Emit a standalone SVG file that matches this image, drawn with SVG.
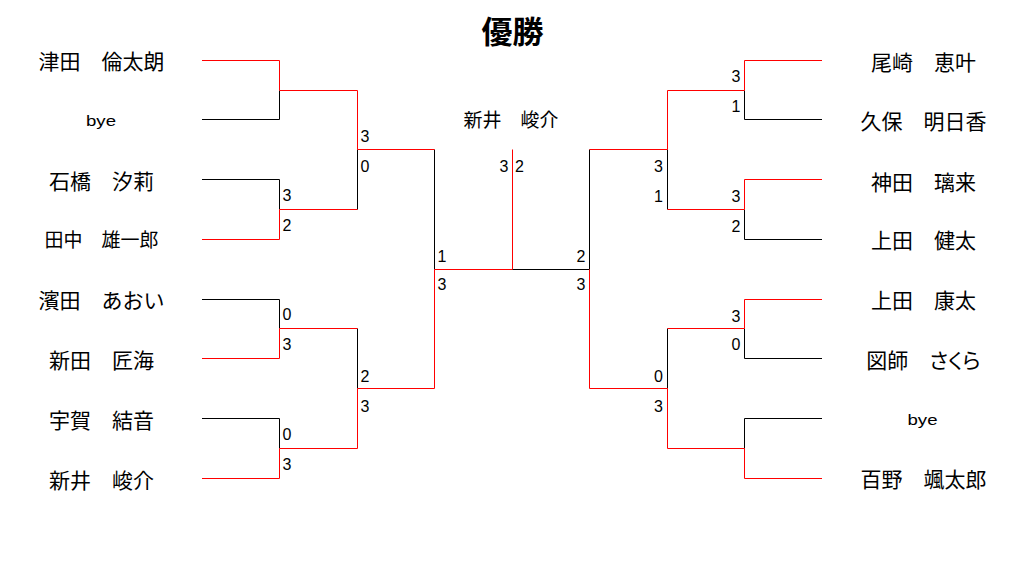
<svg xmlns="http://www.w3.org/2000/svg" width="1024" height="568" viewBox="0 0 1024 568">
<style>
.r{fill:none;stroke:#ff0000;stroke-width:1}
.k{fill:none;stroke:#000;stroke-width:1}
.nm{font-family:'Noto Sans CJK JP',sans-serif;font-size:21px;fill:#000;text-anchor:middle}
.sm{font-size:19px}
.bye{font-family:'Liberation Sans',Arial,sans-serif;font-size:15px;fill:#000;text-anchor:middle}
.sc{font-family:'Liberation Sans',Arial,sans-serif;font-size:16px;fill:#000}
.e{text-anchor:end}
.title{font-family:'Noto Sans CJK JP',sans-serif;font-size:31px;font-weight:bold;fill:#000;text-anchor:middle}
</style>
<rect width="1024" height="568" fill="#fff"/>
<g id="connectors">
<path class="k" d="M202,119.5H279.5V90.5"/>
<path class="k" d="M202,179.5H279.5V209.5"/>
<path class="k" d="M357.5,209.5V149.5"/>
<path class="k" d="M434.5,149.5V269.5"/>
<path class="k" d="M202,299.5H279.5V328.5"/>
<path class="k" d="M357.5,328.5V388.5"/>
<path class="k" d="M202,418.5H279.5V448.5"/>
<path class="r" d="M202,60.5H279.5V90.5H357.5V149.5H434.5"/>
<path class="r" d="M202,239.5H279.5V209.5H357.5"/>
<path class="r" d="M202,358.5H279.5V328.5H357.5"/>
<path class="r" d="M202,478.5H279.5V448.5H357.5V388.5H434.5V269.5H512.5V149.5"/>
<path class="k" d="M512.5,269.5H589.5V149.5"/>
<path class="k" d="M822,119.5H744.5V90.5"/>
<path class="k" d="M822,239.5H744.5V209.5"/>
<path class="k" d="M667.5,209.5V149.5"/>
<path class="k" d="M822,358.5H744.5V328.5"/>
<path class="k" d="M667.5,328.5V388.5"/>
<path class="k" d="M822,418.5H744.5V448.5"/>
<path class="r" d="M822,60.5H744.5V90.5H667.5V149.5H589.5"/>
<path class="r" d="M822,179.5H744.5V209.5H667.5"/>
<path class="r" d="M822,299.5H744.5V328.5H667.5"/>
<path class="r" d="M822,478.5H744.5V448.5H667.5V388.5H589.5V269.5"/>
</g>
<g id="scores">
<text class="sc" x="282.5" y="201">3</text>
<text class="sc" x="282.5" y="231">2</text>
<text class="sc" x="282.5" y="320">0</text>
<text class="sc" x="282.5" y="350">3</text>
<text class="sc" x="282.5" y="440">0</text>
<text class="sc" x="282.5" y="470">3</text>
<text class="sc" x="360.5" y="142">3</text>
<text class="sc" x="360.5" y="172">0</text>
<text class="sc" x="360.5" y="381.5">2</text>
<text class="sc" x="360.5" y="411.5">3</text>
<text class="sc" x="437.5" y="261.5">1</text>
<text class="sc" x="437.5" y="290">3</text>
<text class="sc e" x="508.5" y="171.5">3</text>
<text class="sc" x="515" y="171.5">2</text>
<text class="sc e" x="585.5" y="261.5">2</text>
<text class="sc e" x="585.5" y="290">3</text>
<text class="sc e" x="663" y="171.5">3</text>
<text class="sc e" x="663" y="201.5">1</text>
<text class="sc e" x="663" y="381.5">0</text>
<text class="sc e" x="663" y="411.5">3</text>
<text class="sc e" x="740.5" y="81.5">3</text>
<text class="sc e" x="740.5" y="111.5">1</text>
<text class="sc e" x="740.5" y="201.5">3</text>
<text class="sc e" x="740.5" y="231.5">2</text>
<text class="sc e" x="740.5" y="321.5">3</text>
<text class="sc e" x="740.5" y="350">0</text>
</g>
<g id="title"><text class="title" x="512.5" y="43">優勝</text></g>
<g id="champion"><text class="nm" style="font-size:19px" x="511" y="127">新井　峻介</text></g>
<g id="p1"><text class="nm" x="101.5" y="69">津田　倫太朗</text></g>
<g id="p2"><text class="bye" x="101" y="126" textLength="30" lengthAdjust="spacingAndGlyphs">bye</text></g>
<g id="p3"><text class="nm" x="101.5" y="189">石橋　汐莉</text></g>
<g id="p4"><text class="nm sm" x="101.5" y="246.5">田中　雄一郎</text></g>
<g id="p5"><text class="nm" x="101.5" y="308">濱田　あおい</text></g>
<g id="p6"><text class="nm" x="101.5" y="367.5">新田　匠海</text></g>
<g id="p7"><text class="nm" x="101.5" y="428">宇賀　結音</text></g>
<g id="p8"><text class="nm" x="101.5" y="487.5">新井　峻介</text></g>
<g id="p9"><text class="nm" x="923.5" y="69.5">尾崎　恵叶</text></g>
<g id="p10"><text class="nm" x="923.5" y="129">久保　明日香</text></g>
<g id="p11"><text class="nm" x="923.5" y="189.5">神田　璃来</text></g>
<g id="p12"><text class="nm" x="923.5" y="248.3">上田　健太</text></g>
<g id="p13"><text class="nm" x="923.5" y="308.3">上田　康太</text></g>
<g id="p14"><text class="nm" style="font-feature-settings:'palt'" x="923.5" y="368">図師　さくら</text></g>
<g id="p15"><text class="bye" x="922.5" y="424.5" textLength="30" lengthAdjust="spacingAndGlyphs">bye</text></g>
<g id="p16"><text class="nm" x="923.5" y="486.5">百野　颯太郎</text></g>
</svg>
